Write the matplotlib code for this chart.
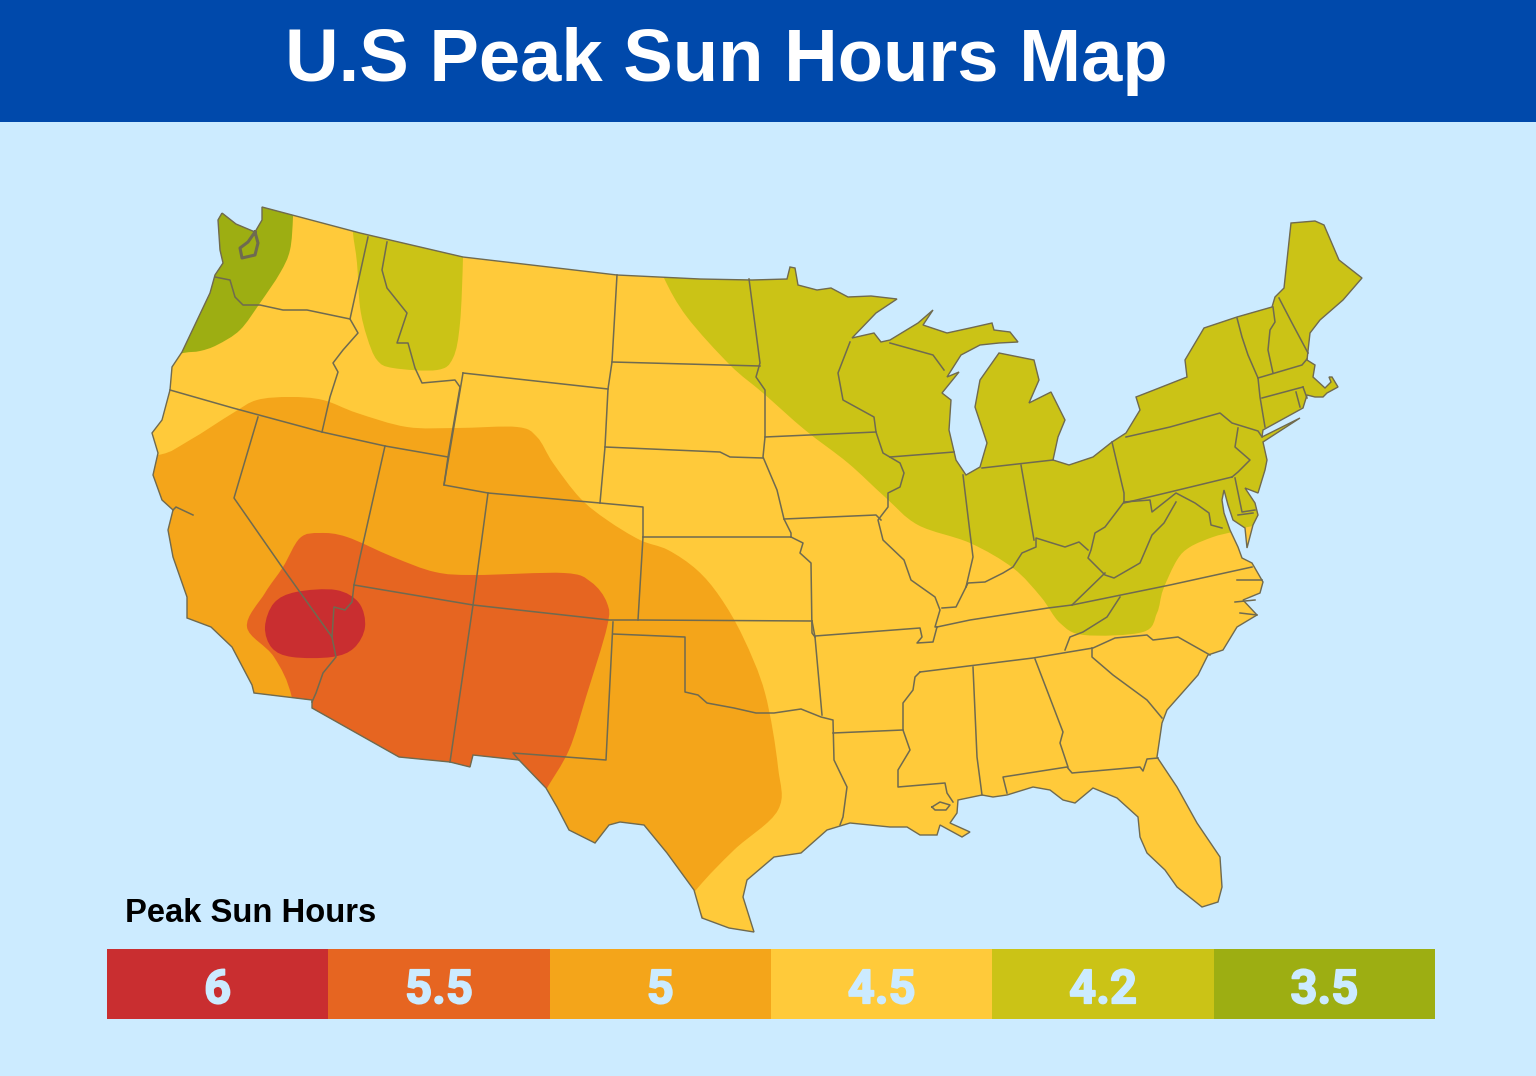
import matplotlib
matplotlib.use("Agg")
import matplotlib.pyplot as plt
import matplotlib.patheffects as pe
from matplotlib.patches import PathPatch, Rectangle
from matplotlib.path import Path

# map geometry, in image pixels
outline = [
    (222,213),(236,224),(255,232),(262,220),(262,207),(360,233),(463,257),(617,275),(700,279),(752,280),
    (787,279),(790,267),(795,268),(798,285),(817,290),(831,288),(848,297),(871,296),(897,299),(876,313),
    (852,338),(874,333),(881,342),(890,340),(918,323),(933,310),(923,325),(947,333),(970,328),(992,323),
    (994,330),(1010,332),(1018,342),(999,343),(980,345),(961,355),(947,377),(959,372),(942,393),(951,400),
    (949,430),(956,460),(966,475),(980,467),(987,443),(975,407),(980,380),(999,353),(1034,360),(1039,380),
    (1029,403),(1051,392),(1065,420),(1058,437),(1053,460),(1069,465),(1093,457),(1112,442),(1126,433),
    (1140,410),(1136,397),(1154,390),(1187,377),(1185,360),(1204,328),(1237,317),(1272,307),(1275,297),
    (1284,288),(1291,223),(1315,221),(1324,225),(1339,260),(1362,278),(1343,300),(1320,320),(1310,333),
    (1307,360),(1315,365),(1313,377),(1325,388),(1331,382),(1329,377),(1332,377),(1338,387),(1327,393),
    (1323,397),(1315,397),(1307,395),(1303,408),(1263,430),(1262,437),(1300,418),(1263,442),(1267,460),
    (1265,470),(1258,493),(1245,488),(1255,503),(1258,515),(1253,525),(1247,548),(1245,528),(1233,520),
    (1228,505),(1224,490),(1222,500),(1224,513),(1230,530),(1238,547),(1242,558),(1252,563),(1263,582),
    (1260,593),(1243,600),(1257,615),(1237,627),(1223,650),(1208,655),(1198,675),(1167,710),(1162,723),
    (1157,757),(1177,787),(1197,823),(1220,857),(1222,887),(1218,902),(1202,907),(1177,887),(1165,870),
    (1147,853),(1140,837),(1138,817),(1117,798),(1093,788),(1075,803),(1063,800),(1050,790),(1033,787),
    (1007,795),(993,797),(982,795),(958,800),(957,813),(950,823),(970,832),(962,837),(940,825),(937,835),
    (920,835),(907,827),(890,827),(850,823),(827,830),(801,853),(774,857),(747,880),(743,897),(754,932),
    (729,928),(702,918),(694,890),(667,853),(644,825),(620,822),(609,825),(595,843),(569,830),(557,807),
    (546,788),(519,760),(473,755),(470,767),(450,762),(399,757),(312,708),(312,700),(254,693),(252,685),
    (232,647),(211,627),(187,618),(187,597),(173,557),(168,530),(173,510),(162,500),(153,475),(158,453),
    (152,433),(162,420),(170,390),(172,367),(182,352),(210,293),(215,275),(223,263),(220,250),(218,220),
]

zone_35 = [(293,190),(293,217),(290,250),(280,273),(260,303),(240,330),(217,345),(200,351),(183,353),(150,360),(150,250),(180,190)]
zone_42_west = [(353,215),(353,233),(357,263),(360,307),(367,337),(377,360),(393,368),(437,370),(453,358),(460,323),(463,257),(463,215)]
zone_42_east = [
    (664,278),(687,317),(730,365),(763,393),(805,430),(848,463),(885,497),(918,525),(970,543),(1013,568),
    (1041,597),(1060,623),(1084,635),(1143,632),(1157,613),(1163,590),(1177,560),(1190,547),(1213,537),(1232,532),
    (1253,526),(1400,500),(1400,180),(664,180),(650,240),
]
zone_5 = [
    (158,455),(190,440),(233,413),(257,400),(290,397),(323,400),(357,413),(407,427),(457,428),(517,427),
    (537,437),(553,463),(580,498),(607,520),(640,540),(668,550),(697,570),(720,597),(743,637),(765,693),
    (778,767),(778,810),(734,850),(696,890),(650,950),(100,950),(100,455),
]
zone_55 = [
    (283,567),(300,538),(320,533),(347,537),(393,557),(435,572),(475,575),(564,573),(591,582),(607,603),
    (607,627),(586,697),(569,750),(546,790),(535,815),(400,800),(300,770),(292,698),(274,657),(247,627),(265,593),
]
zone_6 = [(265,627),(274,603),(296,592),(336,590),(359,603),(365,627),(354,648),(332,657),(292,657),(272,648)]

state_borders = [
    [(215,277),(230,280),(235,297),(243,305),(260,305),(283,310),(307,310),(350,319)],
    [(368,237),(350,319),(358,333),(343,350),(333,363),(338,372),(330,397),(322,432)],
    [(170,390),(233,408),(322,432),(385,446),(448,457)],
    [(387,242),(382,270),(387,288),(407,313),(397,343),(408,343),(415,368),(422,383),(455,380),(460,387),(448,457),(444,485)],
    [(463,373),(444,485),(488,493),(600,503),(643,507),(643,537)],
    [(463,373),(608,389)],
    [(617,275),(612,362),(608,389),(605,447),(600,503)],
    [(612,362),(760,366)],
    [(605,447),(720,452),(730,457),(763,458)],
    [(258,417),(234,498),(282,567),(332,637)],
    [(385,446),(360,557),(354,585),(352,602),(345,610),(334,607),(332,637),(336,657),(323,673),(316,693),(312,702)],
    [(354,585),(473,605),(609,620),(638,620),(812,621)],
    [(488,493),(479,560),(473,605),(450,762)],
    [(643,537),(791,537)],
    [(643,537),(638,620)],
    [(613,622),(606,760),(513,753),(519,760)],
    [(613,634),(685,637),(685,692),(698,695),(707,703),(734,708),(756,713),(774,713),(801,709),(821,717),(833,720),(834,760),(847,787),(843,817),(840,825)],
    [(812,621),(815,637),(822,715)],
    [(791,537),(803,543),(800,553),(811,563),(812,633),(815,637)],
    [(784,519),(876,515),(881,520)],
    [(749,279),(760,363),(756,377),(765,390),(765,437),(763,457),(777,490),(784,519),(791,533),(791,537)],
    [(765,437),(876,432)],
    [(850,342),(838,373),(843,400),(874,417),(876,432),(883,453),(900,463),(904,473),(900,487),(888,493),(888,507),(878,520),
     (883,540),(904,560),(911,580),(935,597),(940,610),(935,627),(937,627)],
    [(815,636),(920,628),(922,637),(917,643),(933,642),(937,627)],
    [(942,608),(956,607),(963,593),(968,583),(985,582),(1003,573),(1013,567),(1022,553),(1036,547),(1036,538),(1065,547),(1079,542),(1088,550)],
    [(963,475),(970,533),(973,557),(966,587)],
    [(1021,465),(1034,540)],
    [(890,457),(954,452)],
    [(982,468),(1053,460)],
    [(890,343),(933,355),(944,370)],
    [(1112,442),(1124,493),(1124,502),(1105,527),(1095,533),(1091,550),(1088,558),(1105,575),(1114,578),(1140,563),(1152,535),(1164,523),(1176,502)],
    [(1124,502),(1150,500),(1152,512),(1176,493),(1195,503),(1209,513),(1211,525),(1222,528)],
    [(1124,503),(1170,492),(1232,477)],
    [(1126,437),(1170,427),(1220,413),(1232,423),(1258,431),(1262,437)],
    [(1238,428),(1235,447),(1250,460),(1238,472),(1232,477)],
    [(1237,318),(1242,337),(1248,355),(1258,378),(1260,397),(1265,427)],
    [(1273,307),(1275,322),(1270,330),(1268,350),(1273,373)],
    [(1279,298),(1292,323),(1308,353)],
    [(1258,378),(1302,365),(1307,359)],
    [(1262,398),(1303,387)],
    [(1296,392),(1300,407)],
    [(1303,387),(1307,398)],
    [(1235,478),(1242,512),(1255,510)],
    [(1238,515),(1253,513)],
    [(1252,567),(1170,585),(1072,605),(1048,608),(970,620),(937,627)],
    [(1072,605),(1105,573)],
    [(1120,597),(1107,617),(1083,632),(1070,637),(1065,650)],
    [(920,672),(1033,658),(1093,648),(1115,638),(1147,635),(1153,640),(1178,637),(1210,655)],
    [(1092,648),(1092,657),(1113,675),(1147,700),(1162,718)],
    [(1035,659),(1063,732),(1060,743),(1068,767)],
    [(973,667),(977,757),(982,795)],
    [(920,672),(915,677),(913,690),(903,703),(903,730),(910,750),(898,770),(898,787),(945,783),(947,793),(953,802)],
    [(833,733),(903,730)],
    [(1007,793),(1003,777),(1067,767),(1072,773),(1140,767),(1143,771),(1147,759),(1158,758)],
    # Lake Pontchartrain, San Francisco Bay, NC sounds
    [(932,807),(940,802),(950,805),(946,810),(935,810),(932,807)],
    [(173,510),(176,507),(193,515)],
    [(1237,580),(1262,580)],
    [(1235,602),(1255,600)],
    [(1240,613),(1257,615)],
]

puget_sound = [(255,232),(258,243),(255,255),(242,258),(240,248),(248,242),(255,232)]

legend_values = ["6", "5.5", "5", "4.5", "4.2", "3.5"]
legend_colors = ["#C92E30", "#E66521", "#F4A51A", "#FFCA3A", "#CBC316", "#9DAE12"]

bg_color = "#CCEBFF"
header_color = "#0049AB"
border_color = "#6F6A50"


def smooth_path(points):
    # closed Catmull-Rom through the points, as bezier segments
    n = len(points)
    verts = [points[0]]
    codes = [Path.MOVETO]
    for i in range(n):
        p0, p1, p2, p3 = points[i - 1], points[i], points[(i + 1) % n], points[(i + 2) % n]
        c1 = (p1[0] + (p2[0] - p0[0]) / 6, p1[1] + (p2[1] - p0[1]) / 6)
        c2 = (p2[0] - (p3[0] - p1[0]) / 6, p2[1] - (p3[1] - p1[1]) / 6)
        verts += [c1, c2, p2]
        codes += [Path.CURVE4] * 3
    return Path(verts, codes)


fig = plt.figure(figsize=(15.36, 10.76), dpi=100, facecolor=bg_color)
ax = fig.add_axes([0, 0, 1, 1])
ax.set_xlim(0, 1536)
ax.set_ylim(1076, 0)
ax.axis("off")

ax.add_patch(Rectangle((0, 0), 1536, 122, facecolor=header_color, edgecolor="none"))
ax.text(726.5, 62, "U.S Peak Sun Hours Map", color="white", fontsize=53.5, fontweight="bold",
        family="Liberation Sans", ha="center", va="center")

us_path = Path(outline + [outline[0]], closed=False)
base = ax.add_patch(PathPatch(us_path, facecolor=legend_colors[3], edgecolor="none", zorder=2))

zones = [(zone_5, 2), (zone_55, 1), (zone_6, 0), (zone_42_west, 4), (zone_42_east, 4), (zone_35, 5)]
for pts, color_idx in zones:
    patch = ax.add_patch(PathPatch(smooth_path(pts), facecolor=legend_colors[color_idx], edgecolor="none", zorder=3))
    patch.set_clip_path(base)

for line in state_borders:
    xs, ys = zip(*line)
    ax.plot(xs, ys, color=border_color, lw=1.1, solid_joinstyle="round", zorder=4)
xs, ys = zip(*puget_sound)
ax.plot(xs, ys, color=border_color, lw=2.2, zorder=4)
ax.add_patch(PathPatch(us_path, facecolor="none", edgecolor=border_color, lw=1.0, zorder=5))

ax.text(125, 913, "Peak Sun Hours", color="black", fontsize=23.6, fontweight="bold",
        family="Liberation Sans", ha="left", va="center")

# legend strip
leg = fig.add_axes([107 / 1536, 1 - 1019 / 1076, 1328 / 1536, 70 / 1076])
leg.bar(range(len(legend_values)), [1] * len(legend_values), width=1.0, color=legend_colors)
leg.set_xlim(-0.5, len(legend_values) - 0.5)
leg.set_ylim(0, 1)
leg.axis("off")
for i, val in enumerate(legend_values):
    leg.text(i, 0.41, val, color=bg_color, fontsize=34, fontweight="bold", family="Roboto",
             ha="center", va="center",
             path_effects=[pe.withStroke(linewidth=1.2, foreground=bg_color)])

fig.savefig("out.png", dpi=100, facecolor=bg_color)
